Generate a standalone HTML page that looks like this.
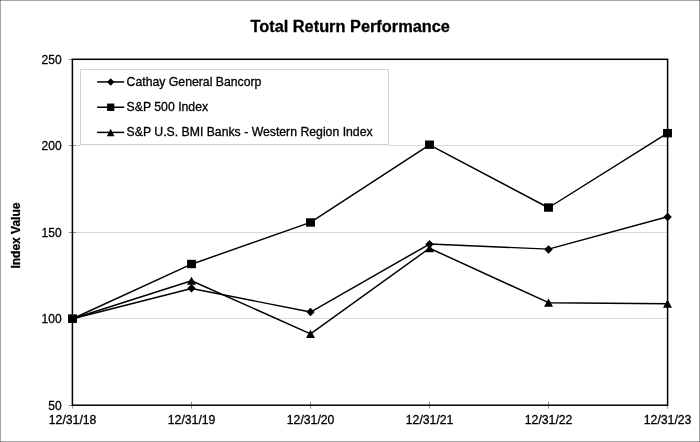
<!DOCTYPE html>
<html><head><meta charset="utf-8"><title>Total Return Performance</title>
<style>
html,body{margin:0;padding:0;background:#fff;}
body{width:700px;height:442px;overflow:hidden;font-family:"Liberation Sans",sans-serif;}
svg{display:block;will-change:transform;}
text{font-family:"Liberation Sans",sans-serif;fill:#000;stroke:#000;stroke-width:0.3px;}
</style></head><body>
<svg width="700" height="442" viewBox="0 0 700 442">
<rect x="0" y="0" width="700" height="442" fill="#fff"/>

<rect x="0.5" y="0.5" width="699" height="441" fill="none" stroke="#a5a5a5" stroke-width="1"/>
<rect x="0" y="0" width="1" height="1" fill="#707070"/>
<rect x="699" y="0" width="1" height="1" fill="#707070"/>
<rect x="0" y="441" width="1" height="1" fill="#707070"/>
<rect x="699" y="441" width="1" height="1" fill="#707070"/>
<text x="350.2" y="31.7" text-anchor="middle" font-size="16.35" font-weight="bold">Total Return Performance</text>
<line x1="72.4" x2="667.6" y1="318.5" y2="318.5" stroke="#dadada" stroke-width="1"/>
<line x1="72.4" x2="667.6" y1="232.5" y2="232.5" stroke="#dadada" stroke-width="1"/>
<line x1="72.4" x2="667.6" y1="145.5" y2="145.5" stroke="#dadada" stroke-width="1"/>
<rect x="80" y="69" width="309" height="77.2" fill="#fff"/>
<path d="M80.5,144.4V69.5H388.5V144.4" fill="none" stroke="#d2d2d2" stroke-width="1"/>
<line x1="80" x2="389" y1="144.65" y2="144.65" stroke="#d2d2d2" stroke-width="1.4"/>
<line x1="68.80" x2="72.40" y1="405.5" y2="405.5" stroke="#808080" stroke-width="0.85"/>
<text x="61.6" y="409.55" text-anchor="end" font-size="12">50</text>
<line x1="68.80" x2="76.00" y1="318.5" y2="318.5" stroke="#808080" stroke-width="0.85"/>
<text x="61.6" y="323.20" text-anchor="end" font-size="12">100</text>
<line x1="68.80" x2="76.00" y1="232.5" y2="232.5" stroke="#808080" stroke-width="0.85"/>
<text x="61.6" y="236.55" text-anchor="end" font-size="12">150</text>
<line x1="68.80" x2="76.00" y1="145.5" y2="145.5" stroke="#808080" stroke-width="0.85"/>
<text x="61.6" y="150.20" text-anchor="end" font-size="12">200</text>
<line x1="68.80" x2="72.40" y1="59.5" y2="59.5" stroke="#808080" stroke-width="0.85"/>
<text x="61.6" y="63.55" text-anchor="end" font-size="12">250</text>
<line x1="72.50" x2="72.50" y1="405.20" y2="408.60" stroke="#808080" stroke-width="0.85"/>
<text x="72.60" y="423.6" text-anchor="middle" font-size="12.25">12/31/18</text>
<line x1="191.50" x2="191.50" y1="401.80" y2="408.60" stroke="#808080" stroke-width="0.85"/>
<text x="191.60" y="423.6" text-anchor="middle" font-size="12.25">12/31/19</text>
<line x1="310.50" x2="310.50" y1="401.80" y2="408.60" stroke="#808080" stroke-width="0.85"/>
<text x="310.60" y="423.6" text-anchor="middle" font-size="12.25">12/31/20</text>
<line x1="429.50" x2="429.50" y1="401.80" y2="408.60" stroke="#808080" stroke-width="0.85"/>
<text x="429.60" y="423.6" text-anchor="middle" font-size="12.25">12/31/21</text>
<line x1="548.50" x2="548.50" y1="401.80" y2="408.60" stroke="#808080" stroke-width="0.85"/>
<text x="548.60" y="423.6" text-anchor="middle" font-size="12.25">12/31/22</text>
<line x1="667.40" x2="667.40" y1="405.20" y2="408.60" stroke="#808080" stroke-width="0.85"/>
<text x="667.60" y="423.6" text-anchor="middle" font-size="12.25">12/31/23</text>
<text transform="translate(20.4,235.6) rotate(-90)" text-anchor="middle" font-size="12" font-weight="bold">Index Value</text>
<rect x="72.4" y="59.3" width="595.20" height="345.90" fill="none" stroke="#000" stroke-width="1.5"/>
<polyline points="72.50,318.75 191.50,288.46 310.50,312.08 429.50,244.03 548.50,249.12 667.50,216.80" fill="none" stroke="#000" stroke-width="1.45" stroke-linejoin="round"/>
<polyline points="72.50,318.75 191.50,264.21 310.50,222.31 429.50,144.91 548.50,207.76 667.50,133.06" fill="none" stroke="#000" stroke-width="1.45" stroke-linejoin="round"/>
<polyline points="72.50,318.75 191.50,280.75 310.50,333.80 429.50,248.22 548.50,302.71 667.50,303.66" fill="none" stroke="#000" stroke-width="1.45" stroke-linejoin="round"/>
<path d="M72.50,314.30L76.70,318.55L72.50,322.80L68.30,318.55Z"/>
<path d="M191.50,284.01L195.70,288.26L191.50,292.51L187.30,288.26Z"/>
<path d="M310.50,307.83L314.70,312.08L310.50,316.33L306.30,312.08Z"/>
<path d="M429.50,239.88L433.70,244.13L429.50,248.38L425.30,244.13Z"/>
<path d="M548.50,245.17L552.70,249.42L548.50,253.67L544.30,249.42Z"/>
<path d="M667.60,212.75L671.80,217.00L667.60,221.25L663.40,217.00Z"/>
<rect x="68.05" y="314.35" width="8.90" height="8.40"/>
<rect x="187.05" y="259.81" width="8.90" height="8.40"/>
<rect x="306.05" y="218.26" width="8.90" height="8.40"/>
<rect x="425.05" y="140.51" width="8.90" height="8.40"/>
<rect x="544.05" y="203.36" width="8.90" height="8.40"/>
<rect x="663.05" y="128.96" width="8.90" height="8.40"/>
<path d="M72.50,314.65L77.00,322.85L68.00,322.85Z"/>
<path d="M191.50,276.65L196.00,284.85L187.00,284.85Z"/>
<path d="M310.50,329.70L315.00,337.90L306.00,337.90Z"/>
<path d="M429.50,244.12L434.00,252.32L425.00,252.32Z"/>
<path d="M548.50,298.61L553.00,306.81L544.00,306.81Z"/>
<path d="M667.50,299.56L672.00,307.76L663.00,307.76Z"/>
<line x1="97.1" x2="124.2" y1="81.95" y2="81.95" stroke="#000" stroke-width="1.5"/>
<text x="126.6" y="85.75" font-size="12.25">Cathay General Bancorp</text>
<line x1="97.1" x2="124.2" y1="107.25" y2="107.25" stroke="#000" stroke-width="1.5"/>
<text x="126.6" y="111.05" font-size="12.25">S&amp;P 500 Index</text>
<line x1="97.1" x2="124.2" y1="132.4" y2="132.4" stroke="#000" stroke-width="1.5"/>
<text x="126.6" y="136.20" font-size="12.25">S&amp;P U.S. BMI Banks - Western Region Index</text>
<path d="M110.70,78.15L114.30,81.95L110.70,85.75L107.10,81.95Z"/>
<rect x="107.10" y="103.55" width="7.20" height="7.40"/>
<path d="M110.65,128.80L114.45,136.30L106.85,136.30Z"/>
</svg></body></html>
